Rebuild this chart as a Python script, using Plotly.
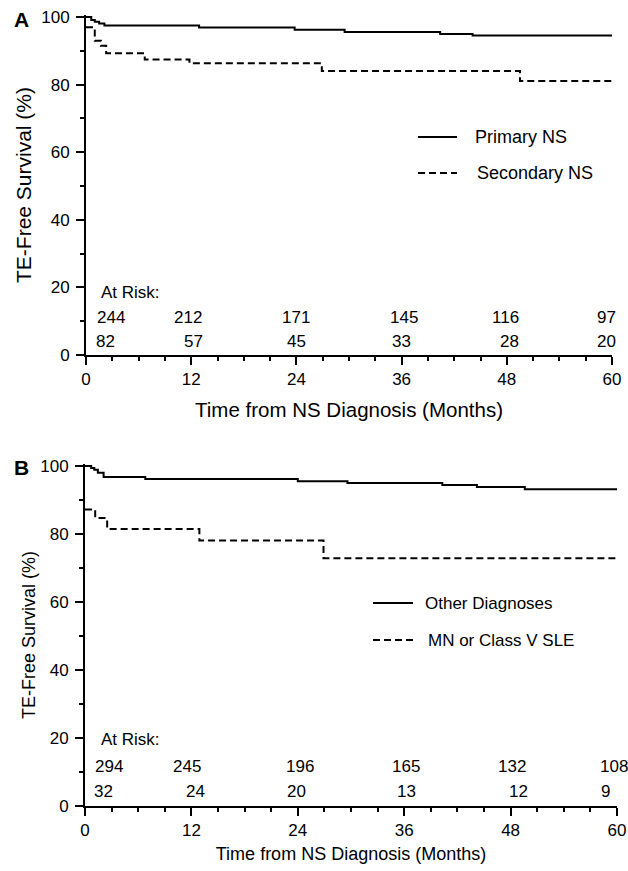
import plotly.graph_objects as go

# ---------------- data ----------------
# Panel A
a_primary_t = [0, 0.6, 1.0, 1.5, 2.1, 12.9, 23.8, 29.5, 40.4, 44.1, 60]
a_primary_s = [100, 99.1, 98.6, 98.1, 97.5, 96.9, 96.2, 95.6, 95.0, 94.5, 94.5]
a_secondary_t = [0, 1.0, 1.7, 2.3, 6.7, 11.8, 26.9, 49.5, 60]
a_secondary_s = [97.0, 93.0, 91.5, 89.3, 87.4, 86.3, 84.0, 81.1, 81.1]

# Panel B
b_other_t = [0, 0.7, 1.05, 1.45, 2.1, 6.8, 24.0, 29.6, 40.3, 44.2, 49.6, 60]
b_other_s = [100, 99.4, 98.9, 98.0, 96.8, 96.2, 95.5, 95.0, 94.4, 93.8, 93.2, 93.2]
b_mn_t = [0, 1.15, 2.5, 12.9, 26.9, 60]
b_mn_s = [87.2, 84.7, 81.5, 78.1, 72.9, 72.9]

risk_times = [0, 12, 24, 36, 48, 60]
a_risk_primary = [244, 212, 171, 145, 116, 97]
a_risk_secondary = [82, 57, 45, 33, 28, 20]
b_risk_other = [294, 245, 196, 165, 132, 108]
b_risk_mn = [32, 24, 20, 13, 12, 9]

x_ticks = [0, 12, 24, 36, 48, 60]
y_ticks = [0, 20, 40, 60, 80, 100]

# ---------------- layout helpers ----------------
W, H = 628, 871
FONT = "Liberation Sans, Arial, Helvetica, sans-serif"


def px(x):
    return x / W


def py(y):
    return 1 - y / H


fig = go.Figure()

line_solid = dict(color="black", width=2, shape="hv")
line_dash = dict(color="black", width=2, shape="hv", dash="7px,4px")

fig.add_trace(go.Scatter(x=a_primary_t, y=a_primary_s, mode="lines", line=line_solid,
                         xaxis="x", yaxis="y", name="Primary NS", showlegend=False))
fig.add_trace(go.Scatter(x=a_secondary_t, y=a_secondary_s, mode="lines", line=line_dash,
                         xaxis="x", yaxis="y", name="Secondary NS", showlegend=False))
fig.add_trace(go.Scatter(x=b_other_t, y=b_other_s, mode="lines", line=line_solid,
                         xaxis="x2", yaxis="y2", name="Other Diagnoses", showlegend=False))
fig.add_trace(go.Scatter(x=b_mn_t, y=b_mn_s, mode="lines", line=line_dash,
                         xaxis="x2", yaxis="y2", name="MN or Class V SLE", showlegend=False))


def xaxis_cfg(domain, anchor, title_size, standoff):
    return dict(
        domain=domain, anchor=anchor, range=[0, 60], tickvals=x_ticks, automargin=False,
        ticks="outside", ticklen=8, tickwidth=2, tickcolor="black",
        minor=dict(dtick=3, ticks="outside", ticklen=4, tickwidth=2, tickcolor="black"),
        showline=True, linecolor="black", linewidth=2, showgrid=False, zeroline=False,
        tickfont=dict(family=FONT, size=17, color="black"),
        title=dict(text="Time from NS Diagnosis (Months)",
                   font=dict(family=FONT, size=title_size, color="black"), standoff=standoff),
    )


def yaxis_cfg(domain, anchor, title_size, standoff):
    return dict(
        domain=domain, anchor=anchor, range=[0, 100.6], tickvals=y_ticks, automargin=False,
        ticks="outside", ticklen=8, tickwidth=2, tickcolor="black", ticklabelstandoff=3,
        minor=dict(dtick=10, ticks="outside", ticklen=4, tickwidth=2, tickcolor="black"),
        showline=True, linecolor="black", linewidth=2, showgrid=False, zeroline=False,
        tickfont=dict(family=FONT, size=17, color="black"),
        title=dict(text="TE-Free Survival (%)",
                   font=dict(family=FONT, size=title_size, color="black"), standoff=standoff),
    )


fig.update_layout(
    width=W, height=H,
    margin=dict(l=0, r=0, t=0, b=0),
    paper_bgcolor="white", plot_bgcolor="white",
    showlegend=False,
    xaxis=xaxis_cfg([px(86), px(612)], "y", 20.5, 14),
    yaxis=yaxis_cfg([py(355), py(15)], "x", 21, 4),
    xaxis2=xaxis_cfg([px(85), px(617)], "y2", 18, 8),
    yaxis2=yaxis_cfg([py(806), py(464)], "x2", 18, 0),
)

annotations = []
# panel letters
annotations.append(dict(text="<b>A</b>", x=px(21), y=py(19), xref="paper", yref="paper",
                        xanchor="center", yanchor="middle",
                        showarrow=False, font=dict(family=FONT, size=21, color="black")))
annotations.append(dict(text="<b>B</b>", x=px(21), y=py(467), xref="paper", yref="paper",
                        xanchor="center", yanchor="middle",
                        showarrow=False, font=dict(family=FONT, size=21, color="black")))

# at-risk tables
risk_font = dict(family=FONT, size=17, color="black")
a_shift1 = [25, -3, 0, 2, -1, -6]
a_shift2 = [19, 2, 0, 0, 3, -6]
b_shift1 = [24, -4, 2, 2, 1, -3]
b_shift2 = [18, 4, -1, 2, 8, -12]

annotations.append(dict(text="At Risk:", x=0, y=18.6, xref="x", yref="y", xanchor="left",
                        yanchor="middle", xshift=13, showarrow=False, font=risk_font))
annotations.append(dict(text="At Risk:", x=0, y=19.5, xref="x2", yref="y2", xanchor="left",
                        yanchor="middle", xshift=14, showarrow=False, font=risk_font))
for t, n, s in zip(risk_times, a_risk_primary, a_shift1):
    annotations.append(dict(text=str(n), x=t, y=11.1, xref="x", yref="y", xshift=s,
                            xanchor="center", yanchor="middle", showarrow=False, font=risk_font))
for t, n, s in zip(risk_times, a_risk_secondary, a_shift2):
    annotations.append(dict(text=str(n), x=t, y=3.9, xref="x", yref="y", xshift=s,
                            xanchor="center", yanchor="middle", showarrow=False, font=risk_font))
for t, n, s in zip(risk_times, b_risk_other, b_shift1):
    annotations.append(dict(text=str(n), x=t, y=11.5, xref="x2", yref="y2", xshift=s,
                            xanchor="center", yanchor="middle", showarrow=False, font=risk_font))
for t, n, s in zip(risk_times, b_risk_mn, b_shift2):
    annotations.append(dict(text=str(n), x=t, y=4.2, xref="x2", yref="y2", xshift=s,
                            xanchor="center", yanchor="middle", showarrow=False, font=risk_font))

# legends (drawn manually)
shapes = []
legend_items = [
    # (x0, x1, y, text_x, label, dashed, size)
    (418, 457, 137, 473, "Primary NS", False, 18),
    (418, 457, 173, 475, "Secondary NS", True, 18),
    (373, 413, 603, 423, "Other Diagnoses", False, 17),
    (373, 413, 640, 426, "MN or Class V SLE", True, 17),
]
for x0, x1, yy, tx, label, dashed, size in legend_items:
    shapes.append(dict(type="line", xref="paper", yref="paper", x0=px(x0), x1=px(x1),
                       y0=py(yy), y1=py(yy),
                       line=dict(color="black", width=2, dash="7px,4px" if dashed else "solid")))
    annotations.append(dict(text=label, x=px(tx), y=py(yy), xref="paper", yref="paper",
                            xanchor="left", yanchor="middle", showarrow=False,
                            font=dict(family=FONT, size=size, color="black")))

fig.update_layout(annotations=annotations, shapes=shapes)

fig.write_html("out.html",
               config={"displayModeBar": False},
               post_script="document.body.style.margin='0px';"
                           "document.body.style.overflow='hidden';")
